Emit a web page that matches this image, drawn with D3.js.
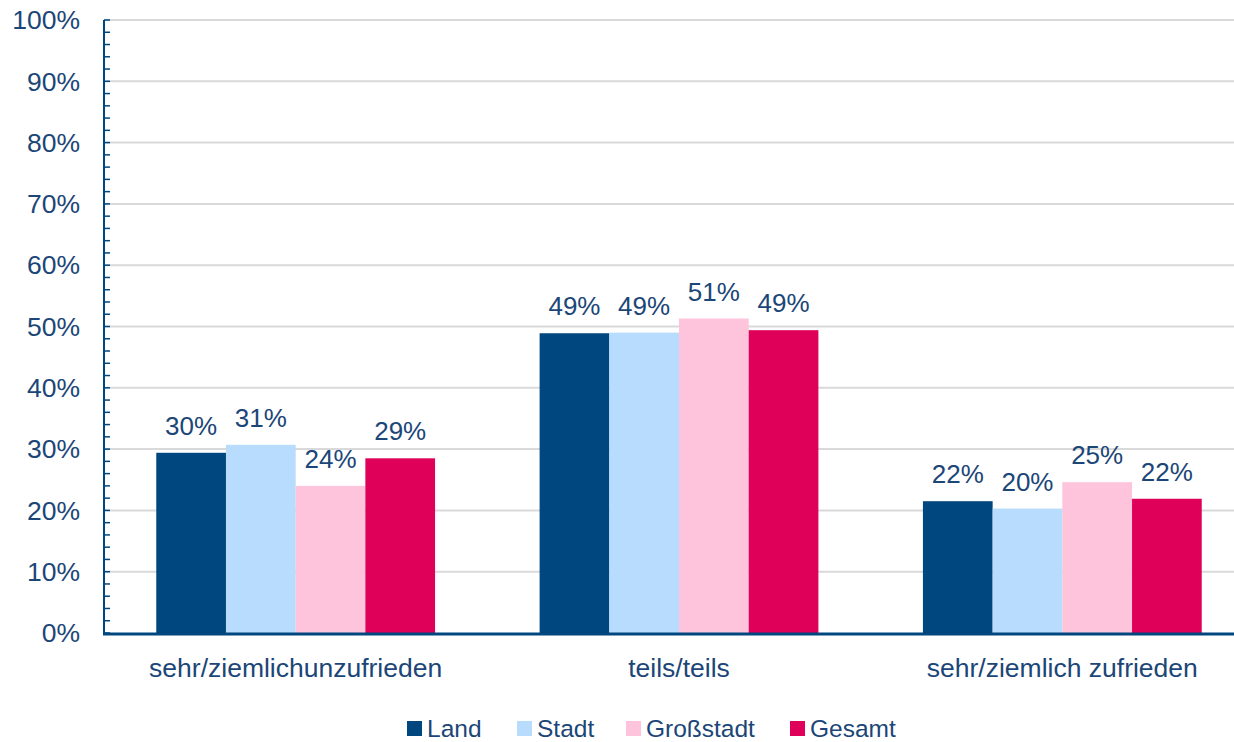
<!DOCTYPE html>
<html>
<head>
<meta charset="utf-8">
<script src="https://cdn.jsdelivr.net/npm/d3@7"></script>
<style>
  body { margin: 0; background: #fff; }
  svg { display: block; font-family: Arial, "Liberation Sans", sans-serif; }
</style>
</head>
<body>
<div id="viz"></div>
<script>
// chart data
const categories = ["sehr/ziemlichunzufrieden", "teils/teils", "sehr/ziemlich zufrieden"];
const seriesNames = ["Land", "Stadt", "Großstadt", "Gesamt"];
const colors = ["#00477f", "#b7dcfd", "#fdc4dc", "#df005a"];
const values = {
  "Land":      [29.4, 48.9, 21.5],
  "Stadt":     [30.7, 49.0, 20.3],
  "Großstadt": [24.0, 51.3, 24.6],
  "Gesamt":    [28.5, 49.4, 21.9]
};
const labels = {
  "Land":      ["30%", "49%", "22%"],
  "Stadt":     ["31%", "49%", "20%"],
  "Großstadt": ["24%", "51%", "25%"],
  "Gesamt":    ["29%", "49%", "22%"]
};
const yTicks = [0, 10, 20, 30, 40, 50, 60, 70, 80, 90, 100];

const W = 1234, H = 742;
const margin = {top: 20, left: 104, bottom: 109};
const textBlue = "#1b4677";

const svg = d3.select("#viz").append("svg").attr("width", W).attr("height", H);

const x0 = d3.scaleBand().domain(categories).range([margin.left, 1254]).paddingInner(0).paddingOuter(0);
const x1 = d3.scaleBand().domain(seriesNames).range([0, x0.bandwidth()]).paddingInner(0).paddingOuter(0.75);
const y = d3.scaleLinear().domain([0, 100]).range([H - margin.bottom, margin.top]);

// gridlines
svg.append("g")
  .selectAll("line").data(yTicks.filter(d => d > 0)).join("line")
  .attr("x1", margin.left).attr("x2", W)
  .attr("y1", d => y(d)).attr("y2", d => y(d))
  .attr("stroke", "#d9d9d9").attr("stroke-width", 2);

// y axis with minor ticks pointing inside
const yAxis = svg.append("g").attr("transform", `translate(${margin.left},0)`);
yAxis.append("line")
  .attr("x1", 0).attr("x2", 0).attr("y1", y(100)).attr("y2", y(0))
  .attr("stroke", "#00477f").attr("stroke-width", 2);
yAxis.selectAll("line.minor").data(d3.range(0, 101, 2)).join("line")
  .attr("class", "minor")
  .attr("x1", 0).attr("x2", 6)
  .attr("y1", d => y(d)).attr("y2", d => y(d))
  .attr("stroke", "#00477f").attr("stroke-width", 1.5);
yAxis.selectAll("text").data(yTicks).join("text")
  .attr("x", -24).attr("y", d => y(d)).attr("dy", "0.35em")
  .attr("text-anchor", "end")
  .attr("font-size", 26.5).attr("fill", textBlue)
  .text(d => d + "%");

// bars
const groups = svg.append("g").selectAll("g").data(categories).join("g")
  .attr("transform", d => `translate(${x0(d)},0)`);

groups.selectAll("rect")
  .data((c, i) => seriesNames.map((s, k) => ({s, k, v: values[s][i], l: labels[s][i]})))
  .join("rect")
  .attr("x", d => x1(d.s)).attr("width", x1.bandwidth())
  .attr("y", d => y(d.v)).attr("height", d => y(0) - y(d.v))
  .attr("fill", d => colors[d.k]);

groups.selectAll("text")
  .data((c, i) => seriesNames.map((s, k) => ({s, k, v: values[s][i], l: labels[s][i]})))
  .join("text")
  .attr("x", d => x1(d.s) + x1.bandwidth() / 2)
  .attr("y", d => y(d.v) - 18)
  .attr("text-anchor", "middle")
  .attr("font-size", 26).attr("fill", textBlue)
  .text(d => d.l);

// baseline
svg.append("line")
  .attr("x1", margin.left - 1).attr("x2", W)
  .attr("y1", y(0) + 1).attr("y2", y(0) + 1)
  .attr("stroke", "#00477f").attr("stroke-width", 3);

// category labels
svg.append("g").selectAll("text").data(categories).join("text")
  .attr("x", d => x0(d) + x0.bandwidth() / 2)
  .attr("y", 677)
  .attr("text-anchor", "middle")
  .attr("font-size", 26.5).attr("fill", textBlue)
  .text(d => d);

// legend
const legendX = [407, 517, 626, 790];
const legend = svg.append("g").selectAll("g").data(seriesNames).join("g")
  .attr("transform", (d, i) => `translate(${legendX[i]},728)`);
legend.append("rect")
  .attr("x", 0).attr("y", -7).attr("width", 15).attr("height", 15)
  .attr("fill", (d, i) => colors[i]);
legend.append("text")
  .attr("x", 20).attr("y", 0).attr("dy", "0.35em")
  .attr("font-size", 24.5).attr("fill", textBlue)
  .text(d => d);
</script>
</body>
</html>
